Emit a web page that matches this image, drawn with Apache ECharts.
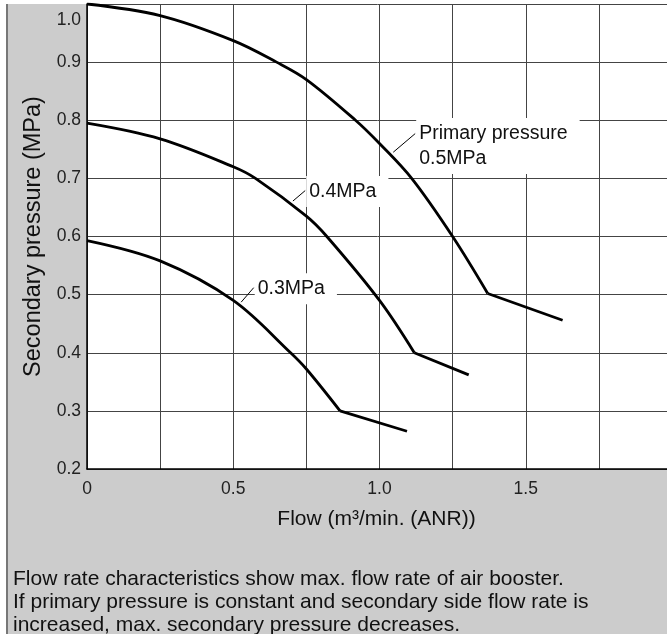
<!DOCTYPE html>
<html>
<head>
<meta charset="utf-8">
<script src="https://cdn.jsdelivr.net/npm/echarts@6/dist/echarts.min.js"></script>
<style>
  html, body { margin: 0; padding: 0; background: #fff; }
  #frame { position: absolute; left: 6px; top: 4px; width: 659px; height: 630px; background: #cccccc; border-left: 2px solid #777; }
  #chart { position: absolute; left: 0; top: 0; width: 667px; height: 634px; }
</style>
</head>
<body>
<div id="frame"></div>
<div id="chart"></div>
<script>
// curves: flow (m3/min) -> secondary pressure (MPa)
const flow05 = [0, 0.25, 0.5, 0.648, 0.75, 0.918, 1.0, 1.11, 1.25, 1.37]
const pres05 = [1.0, 0.98, 0.937, 0.9, 0.87, 0.8, 0.76, 0.7, 0.6, 0.502]
const tailFlow05 = [1.37, 1.626]
const tailPres05 = [0.502, 0.456]

const flow04 = [0, 0.25, 0.5, 0.576, 0.75, 0.82, 1.0, 1.119]
const pres04 = [0.795, 0.768, 0.72, 0.7, 0.635, 0.6, 0.49, 0.4]
const tailFlow04 = [1.119, 1.305]
const tailPres04 = [0.4, 0.362]

const flow03 = [0, 0.25, 0.5, 0.696, 0.75, 0.865]
const pres03 = [0.593, 0.558, 0.49, 0.4, 0.372, 0.3]
const tailFlow03 = [0.865, 1.094]
const tailPres03 = [0.3, 0.265]

// labels on the curves and their leader lines (data coords)
const annoText = ['Primary pressure\n0.5MPa', '0.4MPa', '0.3MPa']
const leaderFrom = [[1.047, 0.745], [0.704, 0.661], [0.527, 0.487]]
const leaderTo = [[1.122, 0.777], [0.746, 0.679], [0.57, 0.512]]

const xLabelValues = [0, 0.5, 1.0, 1.5]
const yLabelValues = [0.2, 0.3, 0.4, 0.5, 0.6, 0.7, 0.8, 0.9, 1.0]

const note = 'Flow rate characteristics show max. flow rate of air booster.\n' +
  'If primary pressure is constant and secondary side flow rate is\n' +
  'increased, max. secondary pressure decreases.'

const FONT = '"Liberation Sans", Arial, Helvetica, sans-serif'
const zip = (xs, ys) => xs.map((x, i) => [x, ys[i]])
const near = (list, v) => list.find(t => Math.abs(t - v) < 1e-6)

function curve(xs, ys, smooth, idx) {
  const s = {
    type: 'line',
    data: zip(xs, ys),
    smooth: smooth,
    symbol: 'none',
    silent: true,
    lineStyle: { color: '#000', width: 2.8 },
  }
  if (idx != null) {
    s.markLine = {
      silent: true,
      symbol: ['none', 'none'],
      label: { show: false },
      lineStyle: { color: '#000', width: 1, type: 'solid' },
      data: [[{ coord: leaderFrom[idx] }, { coord: leaderTo[idx] }]],
    }
    s.markPoint = {
      silent: true,
      symbol: 'circle',
      symbolSize: 0,
      data: [{ coord: leaderTo[idx] }],
      label: {
        show: true,
        formatter: annoText[idx],
        position: 'right',
        distance: 1,
        offset: idx === 0 ? [0, 12.5] : [0, 1],
        align: 'left',
        fontFamily: FONT,
        fontSize: 19.5,
        lineHeight: 25,
        color: '#111',
        backgroundColor: '#fff',
        padding: [3, 12, 3, 3],
      },
    }
  }
  return s
}

const chart = echarts.init(document.getElementById('chart'))
chart.setOption({
  animation: false,
  backgroundColor: 'transparent',
  grid: {
    left: 87, right: -5, top: 4, bottom: 165,
    show: true, backgroundColor: '#fff', borderWidth: 0,
    containLabel: false, outerBoundsMode: 'none',
  },
  xAxis: {
    type: 'value',
    min: 0, max: 2, interval: 0.25,
    name: 'Flow (m³/min. (ANR))',
    nameLocation: 'middle',
    nameGap: 40,
    nameTextStyle: { fontFamily: FONT, fontSize: 21, color: '#111', padding: [0, 6, 0, 0] },
    axisLine: { lineStyle: { color: '#000', width: 1.5 } },
    axisTick: { show: false },
    axisLabel: {
      fontFamily: FONT, fontSize: 17.5, color: '#222', margin: 11,
      showMaxLabel: true,
      formatter: v => {
        const t = near(xLabelValues, v)
        return t == null ? '' : (t === 0 ? '0' : t.toFixed(1))
      },
    },
    splitLine: { show: true, lineStyle: { color: '#444', width: 1 } },
  },
  yAxis: {
    type: 'value',
    min: 0.2, max: 1.0, interval: 0.1,
    name: 'Secondary pressure (MPa)',
    nameLocation: 'middle',
    nameGap: 38,
    nameTextStyle: { fontFamily: FONT, fontSize: 23.5, color: '#111' },
    axisLine: { show: true, lineStyle: { color: '#000', width: 1.5 } },
    axisTick: { show: false },
    axisLabel: {
      fontFamily: FONT, fontSize: 17.5, color: '#222', margin: 6, lineHeight: 16,
      showMaxLabel: true, showMinLabel: true,
      formatter: v => {
        const t = near(yLabelValues, v)
        if (t == null) return ''
        return t === 1.0 ? '\n\n1.0' : t.toFixed(1)
      },
    },
    splitLine: { show: true, lineStyle: { color: '#444', width: 1 } },
  },
  graphic: [{
    type: 'text',
    left: 13,
    top: 568,
    style: { text: note, fontFamily: FONT, fontSize: 21, lineHeight: 23, fill: '#111' },
  }],
  series: [
    curve(flow05, pres05, 0.35, 0),
    curve(tailFlow05, tailPres05, false),
    curve(flow04, pres04, 0.35, 1),
    curve(tailFlow04, tailPres04, false),
    curve(flow03, pres03, 0.35, 2),
    curve(tailFlow03, tailPres03, false),
  ],
})
window.addEventListener('resize', () => chart.resize())
</script>
</body>
</html>
